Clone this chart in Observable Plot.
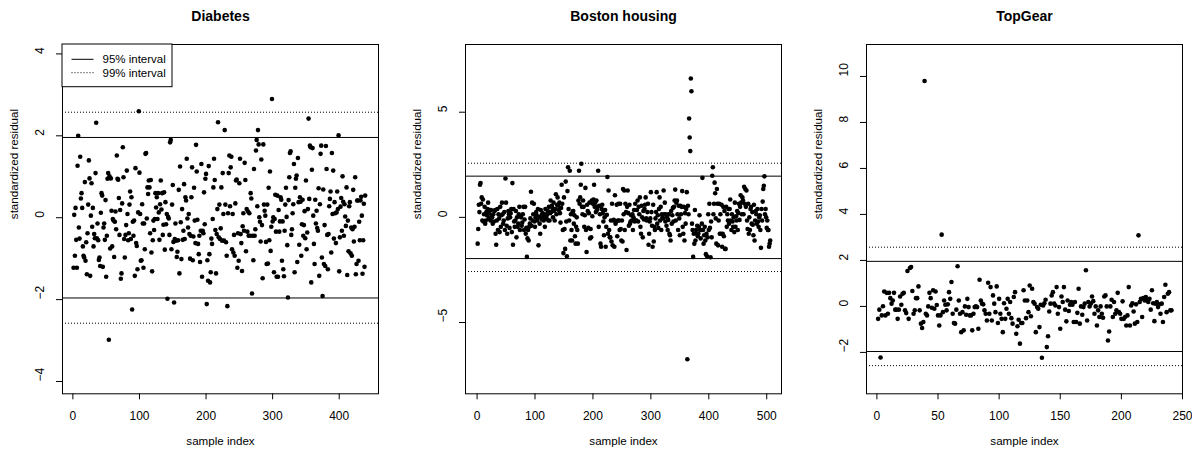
<!DOCTYPE html>
<html><head><meta charset="utf-8">
<script src="https://cdn.jsdelivr.net/npm/d3@7"></script>
<script src="https://cdn.jsdelivr.net/npm/@observablehq/plot@0.6"></script>
<style>
html,body{margin:0;padding:0;background:#fff;}
#wrap{position:relative;width:1192px;height:449px;overflow:hidden;background:#fff;}
#wrap svg{position:absolute;top:0;}
</style></head><body><div id="wrap"></div>
<script>
const diabetesResid = [-1.22,0.07,-0.93,0.24,-0.54,-1.22,1.27,2.0,-0.24,-0.51,1.49,0.47,0.6,0.24,-0.7,-0.93,-0.97,0.87,-1.05,-0.6,-1.38,-0.38,0.32,1.4,0.96,-1.42,0.05,0.84,-0.22,0.24,-0.7,-0.4,-0.5,1.09,2.32,-0.5,-0.14,-0.55,-1.03,-0.97,-1.18,0.12,0.6,0.54,-1.2,-0.24,-0.14,-0.54,0.43,-1.44,-0.44,0.95,1.09,-2.98,1.01,-0.75,0.96,0.17,-0.7,-0.03,-0.07,-0.96,-0.1,0.15,-0.28,1.52,0.95,0.93,0.48,-0.42,0.19,-1.49,-1.36,0.35,1.72,0.99,-0.52,-0.97,-0.42,-0.18,1.15,0.09,-0.55,-0.38,0.32,0.64,-0.52,0.5,-2.24,-0.1,-0.44,-0.07,-1.42,1.21,-0.62,-0.69,-1.26,0.13,2.6,1.1,0.09,-1.05,-1.04,0.33,-0.14,-1.22,-0.14,-0.77,1.56,1.58,-0.02,0.74,0.58,0.91,0.74,-0.38,0.92,-0.85,-1.31,-0.55,-0.07,-0.3,-0.03,0.6,0.25,0.5,-0.03,0.6,0.13,-0.54,0.33,0.91,0.2,0.6,-0.42,-0.17,0.62,-0.78,0.38,-0.16,0.09,-1.98,0.02,-0.02,-0.42,1.84,1.9,-0.77,0.32,0.8,-0.59,-2.07,-0.52,-0.14,-0.56,-0.96,-0.83,-0.55,0.68,-1.36,1.25,-0.11,-1.01,0.21,-0.54,-0.32,0.82,-0.52,0.5,0.42,1.44,-0.02,-0.24,0.09,-0.4,-1.0,-0.44,0.5,1.23,-1.04,-0.46,0.73,-0.07,-0.62,1.78,1.13,-0.05,-0.64,-0.89,-0.44,-1.08,-0.32,1.31,-1.44,-0.32,-0.38,0.62,-0.16,0.95,1.07,-2.11,-1.04,-1.54,1.26,-0.89,-1.58,-1.33,-0.51,-0.64,-0.03,0.74,1.44,0.92,-0.3,-1.36,-0.4,0.21,2.33,-0.48,0.32,-0.52,-0.26,0.74,-0.56,1.09,0.09,-0.56,2.14,0.32,-0.6,-0.93,-2.16,0.11,1.09,1.52,0.28,1.23,1.49,-0.77,0.09,-0.85,-0.42,-0.93,0.35,0.91,0.93,-1.22,-0.38,-1.05,0.84,1.44,-0.4,-0.62,-1.3,-0.21,0.11,-0.32,1.34,0.92,-0.82,0.21,-0.34,0.15,-0.44,0.11,-0.44,0.6,0.47,-1.85,-0.44,-1.04,1.19,-0.44,-0.28,1.64,1.9,0.28,2.14,1.79,0.01,-0.1,-0.58,1.42,-0.18,-1.48,1.79,0.32,0.17,0.05,-0.59,-1.13,0.32,-1.12,0.73,-0.55,1.13,-0.81,-0.22,2.9,-0.09,0.01,-1.33,-0.03,0.56,-0.34,-1.44,0.54,-1.44,0.19,-0.34,-0.09,0.5,0.44,-1.05,-0.09,-1.26,-1.43,-0.32,0.32,0.73,0.02,-0.67,-1.95,0.43,0.99,1.58,1.62,-0.42,-0.28,0.11,0.33,1.31,-1.33,0.73,0.95,1.03,-1.08,1.46,0.38,-0.66,0.5,0.39,-0.93,-0.16,0.44,-0.44,-0.18,0.16,-0.5,0.91,-0.77,-0.36,0.21,2.42,0.46,1.76,1.72,-1.58,1.17,1.7,0.05,-0.64,-1.13,0.44,-0.14,0.17,-0.25,-0.32,0.72,-1.42,0.33,1.56,1.76,-0.97,-1.91,0.69,-1.13,-0.18,-1.18,1.75,1.19,-0.42,-1.26,-0.4,0.28,0.46,0.64,-0.85,1.58,0.09,1.15,-0.51,0.38,0.11,-0.62,0.13,0.64,0.21,2.01,-1.31,-0.48,0.27,0.48,-0.32,1.01,0.39,-0.44,0.33,0.03,-0.2,0.74,-1.4,-0.07,-0.82,0.28,0.38,-0.87,-0.24,-0.93,-0.28,0.68,-0.58,-0.22,0.99,-1.38,-1.13,0.42,0.42,-1.05,-0.1,-0.55,0.42,0.51,0.05,-1.37,-0.55,0.34,-1.2,0.54];

const bostonResid = [
-1.25,-0.55,0.6,0.25,1.55,1.63,0.65,0.95,-0.15,0.85,
-0.2,0.15,0.5,-0.3,-0.15,0.25,0.1,0.4,0.7,-0.05,0.2,0.35,-0.15,0.35,0.05,0,-0.3,0.15,-0.2,0.3,
0.35,-0.78,-1.3,-0.15,0.4,-0.6,0.15,-0.05,-0.7,0.5,-0.45,0.1,0.7,0.15,-0.3,-0.15,0.25,-0.6,1.85,0.7,-0.4,-0.78,-0.05,0.3,0.15,-0.5,0.0,0.2,
0.4,-0.7,1.63,-1.3,0.4,-0.2,-0.45,-0.15,0.3,-0.95,0,-0.45,-0.3,0.15,0.5,-0.6,0.05,0,-0.4,-0.25,0.15,0.5,-0.6,-0.1,0.5,-0.78,-0.5,-1.88,
-1.0,-0.6,-1.1,-0.45,-0.3,-0.05,1.22,-0.4,0.7,-0.15,0.15,0.65,-0.2,-0.45,0,0.25,0.1,-0.15,0.4,-1.33,0,-0.3,-0.78,0.35,0.1,-0.1,0.2,0.0,
-0.15,0.15,-0.45,0.4,0.05,-0.05,0.15,0.3,-0.15,0.5,-0.15,0.2,0.8,0.25,0.55,0.45,0,0.7,0.3,-0.15,0.4,1.1,0.15,0.6,0.95,0.55,0.35,0.7,0.2,-0.25,0.45,
1.55,0.65,-0.6,-1.7,0.95,-0.55,-1.5,1.7,-0.2,-1.85,1.25,2.38,0.4,-0.15,2.22,-1.1,0.15,-0.6,-1.1,0.28,0.3,-0.3,0.1,-0.9,
-1.25,-0.45,0,-0.6,-1.25,0.8,2.22,0.65,0.95,1.55,2.55,0.5,0.15,0.8,0.5,-0.45,0.1,1.4,-0.6,-1.65,0.6,0.3,-0.5,0.2,0.7,
-1.0,-0.55,-0.95,0.8,0.05,0.65,0.85,1.55,0.5,0.7,0.25,0.8,0.35,0.5,2.22,-0.45,0.55,0.15,-1.25,-1.4,0.4,0.6,0.2,-0.2,
-0.85,0,0.35,-1.4,-0.45,0.12,1.92,-0.78,1.28,-0.6,-0.95,-0.95,-0.15,-1.15,0.65,-1.33,-0.15,-0.12,-1.4,1.05,-0.3,-0.2,0.6,-0.9,
-0.15,0.65,-0.15,-0.6,0.65,-0.55,-1.1,-0.15,-1.15,1.35,0.15,1.28,-0.6,0.65,0.25,-1.55,0.5,1.28,0.2,-0.4,0.6,-0.3,-0.2,0.1,
-0.15,0.15,-0.6,0,0.35,-0.2,0.65,-0.15,-0.15,0.35,0.8,-0.2,0.5,0.15,0.95,-0.45,-0.78,0.55,0,-0.95,0.3,-0.1,0.4,0.6,
0.95,-0.05,-0.15,0.25,0.65,-1.3,-0.78,-0.2,-0.05,1.2,0.25,-0.4,-1.4,0.6,-1.15,-0.45,-0.6,-0.05,0.25,1.2,-0.3,0.1,-0.5,0.4,
0.95,-0.15,0.5,-0.6,0.15,0,-0.05,1.28,0.15,0.7,-0.2,0.15,-0.4,0,-0.6,-0.12,0.15,-0.78,-0.85,-1.1,0.3,-0.3,0.1,0.45,-0.2,0.5,
0.8,1.32,-0.15,0.7,0.8,0.15,-0.6,0.55,-0.05,-0.85,0.55,0.15,0.5,1.25,-0.45,-0.78,0.5,-1.1,0.2,-0.3,0.4,1.2,-6.75,0.55,
0.15,4.7,3.8,3.15,6.6,6.0,-0.3,-0.6,-1.88,-0.78,-1.25,0.35,-1.1,-0.6,-0.78,-0.4,-0.9,
-0.78,-0.45,0.1,-0.6,-1.0,-0.6,-0.3,1.88,-0.6,-1.25,-0.85,-0.45,-1.1,-1.75,-0.78,-1.85,-0.95,0.15,-0.6,0.65,-0.5,-1.9,-0.2,
-0.95,1.98,2.38,0.15,0.65,1.65,1.15,-0.05,-1.25,1.35,0.65,-1.33,-0.15,0.65,-0.78,0.15,-0.78,0.6,-1.4,-0.78,0.5,-0.9,0.3,-1.5,
-1.5,0.5,-0.45,0.15,-0.15,0.4,-0.3,0.4,0.85,-0.15,-0.6,0.15,-0.2,-0.45,0,-0.7,0.7,-0.45,0.05,-0.15,0.3,-0.6,0.2,
0.65,-0.12,0.5,1.05,0.7,0.15,0.95,0.8,0.15,1.45,0.65,1.35,0.5,1.28,-0.15,-0.55,0.65,-0.78,0,-0.6,0.4,0.5,-0.3,0.25,-0.35,
-0.85,0.6,-1.1,-0.15,0.3,0.15,-0.3,0.4,-0.2,-0.45,0,0.1,-0.6,-1.45,0.4,-0.15,0.75,1.35,1.5,1.95,0.15,0.4,0,-0.5,-0.15,-0.6,-0.6,-1.4,-1.25,-1.1];

const topgearResid = [-0.54,-0.14,-2.22,-0.39,0.01,0.65,-0.39,0.59,-0.32,0.59,0.36,0.12,0.26,0.59,-0.14,-0.14,-0.54,-0.14,0.43,0.07,0.55,0.59,-0.17,-0.29,1.54,-0.54,1.67,1.71,0.67,-0.32,-0.17,0.36,0.36,0.87,-0.17,-0.75,-0.94,-0.68,9.8,
-0.32,-0.39,0,0.59,0.36,-0.06,0.7,-0.1,0.65,0.06,-0.39,-0.83,-0.39,3.12,-0.25,0.26,0.07,-0.17,0.09,0.62,0.33,1.06,-0.32,-0.72,-0.75,-0.14,1.75,0.26,-0.32,-1.12,-0.25,-1.04,0,-0.36,0.33,-0.03,-0.39,-0.39,-1.04,-0.32,-0.03,0,-0.03,-0.97,1.16,0.26,0.12,0.09,-0.17,-0.32,-0.61,1.03,-0.32,0.84,-0.61,0.48,0.12,-0.25,0.87,-0.72,0.33,-0.32,-0.54,-1.12,0.14,-0.54,-0.1,0.33,-0.32,0.19,-0.51,-0.75,0.41,0.62,-1.19,-0.86,-0.58,-1.62,-0.72,-0.72,0.7,0.26,-0.51,0.26,-0.25,0.91,-0.43,0.77,0.19,0.12,-1.12,-0.03,-0.1,-0.9,0.07,-2.23,0.04,0.14,0.29,-1.77,-1.3,-0.22,0.12,0.48,0.62,0.12,0.04,0.84,-0.32,-0.03,-0.97,0.43,0.19,0.84,-0.14,-0.65,0.26,-0.2,0.07,0.19,0.07,-0.68,0.19,-0.68,-0.28,0.77,-0.75,0,-0.36,-0.03,0.12,1.57,-0.61,0.19,0,0.12,0.43,0.23,-0.32,0,-0.83,-0.17,-0.46,0,-0.32,-0.49,0.43,0.48,0,-1.48,-1.09,0,0.29,-0.46,0.19,-0.32,-0.17,0.59,-0.25,-0.32,-0.54,0.22,-0.54,-0.46,-0.83,-0.39,0.84,-0.83,0.04,0.14,-0.22,-0.75,0.09,-0.68,3.09,0.19,0.33,-0.46,0.36,0.26,0.41,0.26,0.19,0.33,-0.14,0.7,0.14,-0.64,0.12,0.19,-0.03,0.09,-0.32,0.12,-0.68,0.41,0.94,-0.25,0.55,0.62,-0.17,-0.17];

const panelTitles = ["Diabetes", "Boston housing", "TopGear"];
const panelResid = [diabetesResid, bostonResid, topgearResid];
const xTicks = [[0,100,200,300,400],[0,100,200,300,400,500],[0,50,100,150,200,250]];
const yTicks = [[-4,-2,0,2,4],[-5,0,5],[-2,0,2,4,6,8,10]];
const xDomains = [[-15.6,459],[-20,525.5],[-8.5,250]];
const yDomains = [[-4.30,4.23],[-8.39,8.22],[-3.80,11.39]];
const interval95 = [-1.96, 1.96];
const interval99 = [-2.576, 2.576];
const legendLabels = ["95% interval", "99% interval"];
const xLabel = "sample index";
const yLabel = "standardized residual";

const FONT = "'Liberation Sans', Arial, Helvetica, sans-serif";
const W = 403, H = 449, ML = 62, PW = 316, MT = 44, MB = 449 - 393.3;
const panelLeft = [0, 402.67, 804.33];
const fmt = d => d < 0 ? "\u2212" + Math.abs(d) : String(d);
const wrap = document.getElementById("wrap");

panelResid.forEach((resid, i) => {
  const data = resid.map((r, k) => ({idx: k + 1, r}));
  const svg = Plot.plot({
    width: W, height: H,
    marginLeft: ML, marginRight: W - ML - PW, marginTop: MT, marginBottom: MB,
    style: {fontFamily: FONT, fontSize: "12px", background: "transparent", color: "black", overflow: "visible"},
    x: {domain: xDomains[i]},
    y: {domain: yDomains[i]},
    marks: [
      Plot.ruleY(interval95, {stroke: "black", strokeWidth: 1}),
      Plot.ruleY(interval99, {stroke: "black", strokeWidth: 1, strokeDasharray: "1,2"}),
      Plot.dot(data, {x: "idx", y: "r", r: 2.3, fill: "black"}),
      Plot.frame({stroke: "black", strokeWidth: 1}),
      Plot.axisX({ticks: xTicks[i], tickSize: 6, tickPadding: 12, label: null, tickFormat: fmt, fontSize: 12}),
      Plot.axisY({ticks: yTicks[i], tickSize: 6, label: null, tickFormat: () => ""}),
      Plot.text(yTicks[i], {y: d => d, text: fmt, frameAnchor: "left", dx: -22, rotate: -90, fontSize: 12, lineAnchor: "middle"}),
      Plot.text([panelTitles[i]], {text: d => d, frameAnchor: "top", dy: -28, fontWeight: "bold", fontSize: 14, lineAnchor: "middle"}),
      Plot.text([yLabel], {text: d => d, frameAnchor: "left", dx: -48.4, rotate: -90, fontSize: 11.6, lineAnchor: "middle"}),
      Plot.text([xLabel], {text: d => d, frameAnchor: "bottom", dy: 47.4, fontSize: 11.6, lineAnchor: "middle"})
    ]
  });
  svg.style.left = panelLeft[i] + "px";
  if (i === 0) {
    const g = d3.select(svg).append("g").attr("font-family", FONT).attr("font-size", 11.5).attr("text-anchor", "start");
    g.append("rect").attr("x", ML).attr("y", MT).attr("width", 110).attr("height", 42.7)
      .attr("fill", "white").attr("stroke", "black").attr("stroke-width", 1);
    legendLabels.forEach((lab, j) => {
      const yy = MT + 15.3 + j * 13.4;
      g.append("line").attr("x1", ML + 9.5).attr("x2", ML + 31.5).attr("y1", yy).attr("y2", yy)
        .attr("stroke", "black").attr("stroke-width", 1).attr("stroke-dasharray", j === 0 ? null : "1,2");
      g.append("text").attr("x", ML + 40.5).attr("y", yy).attr("dy", "0.35em")
        .attr("text-anchor", "start").attr("fill", "black").text(lab);
    });
  }
  wrap.appendChild(svg);
});
</script></body></html>
